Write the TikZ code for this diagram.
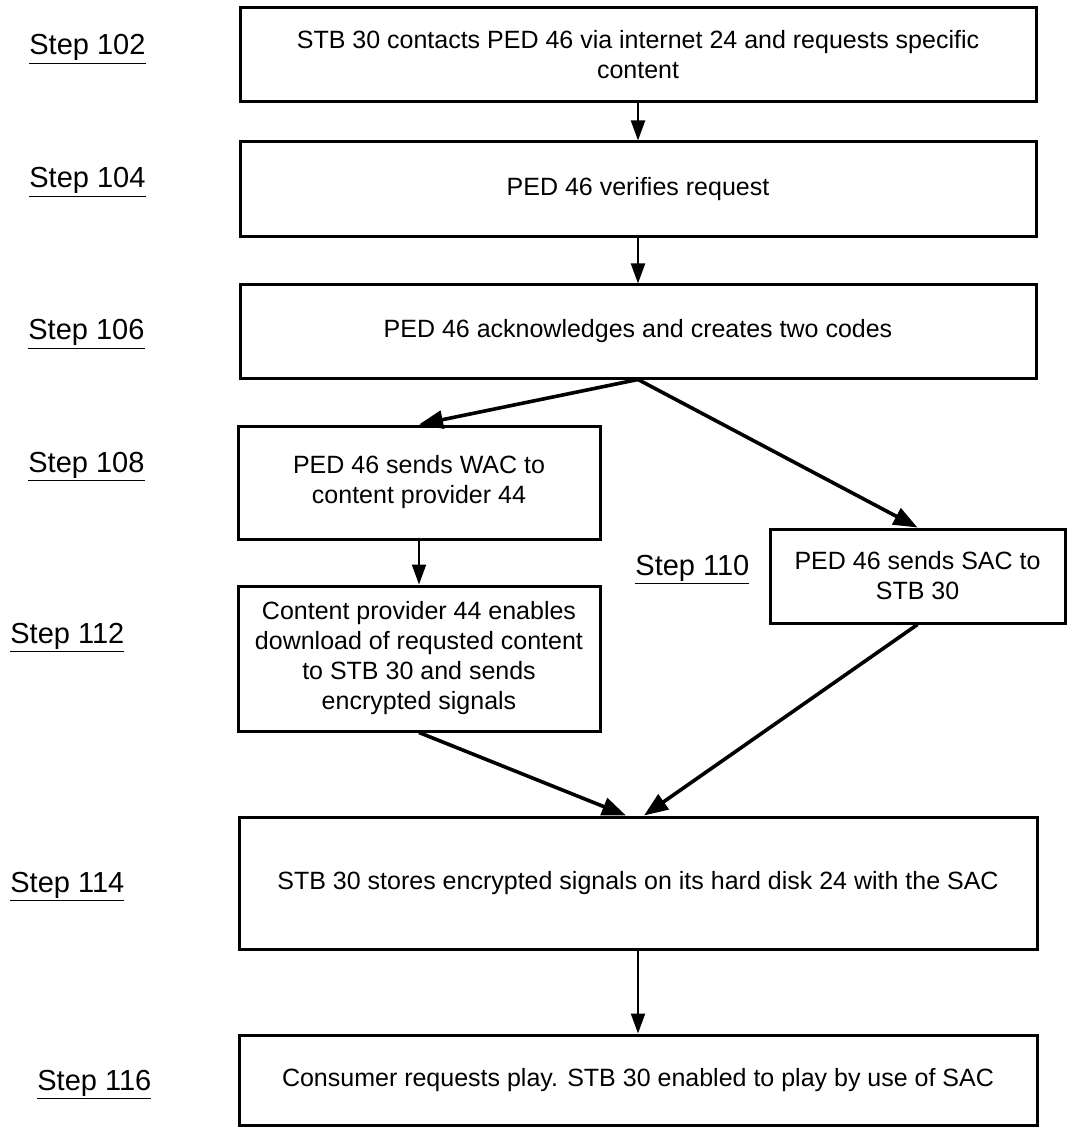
\documentclass[tikz,border=0pt]{standalone}
\usepackage{fontspec}
\setmainfont{Liberation Sans}
\usetikzlibrary{arrows.meta}
\tikzset{
  stepbox/.style={draw, line width=1.5pt, align=center, inner sep=0pt, font=\fontsize{12.5}{15}\selectfont},
  steplabel/.style={anchor=base west, inner sep=0pt, font=\fontsize{14.5}{16}\selectfont},
  flow/.style={line width=1.1pt, -{Triangle[length=10pt,width=7pt]}},
  bigflow/.style={line width=1.8pt, -{Triangle[length=12pt,width=9pt]}}
}
\begin{document}
\begin{tikzpicture}[x=0.5pt,y=-0.5pt]
\useasboundingbox (0,0) rectangle (1067,1128);
\node[stepbox, minimum width=398pt, minimum height=47pt] (b102) at (638,55) {STB 30 contacts PED 46 via internet 24 and requests specific\\content};
\node[stepbox, minimum width=398pt, minimum height=47.5pt] (b104) at (638,189.5) {PED 46 verifies request};
\node[stepbox, minimum width=398pt, minimum height=46.5pt] (b106) at (638,331.5) {PED 46 acknowledges and creates two codes};
\node[stepbox, minimum width=181pt, minimum height=56.5pt] (b108) at (419,482.5) {PED 46 sends WAC to\\content provider 44};
\node[stepbox, minimum width=147.5pt, minimum height=47pt] (b110) at (917.5,576) {PED 46 sends SAC to\\STB 30};
\node[stepbox, minimum width=181pt, minimum height=72.5pt] (b112) at (419,658.5) {Content provider 44 enables\\download of requsted content\\to STB 30 and sends\\encrypted signals};
\node[stepbox, minimum width=399pt, minimum height=66pt] (b114) at (638,883) {STB 30 stores encrypted signals on its hard disk 24 with the SAC};
\node[stepbox, minimum width=399pt, minimum height=45pt] (b116) at (638,1080) {Consumer requests play. STB 30 enabled to play by use of SAC};
\foreach \n/\x/\y in {102/29/55,104/29/188,106/28/340,108/28/472,110/635/575,112/10/643,114/10/892,116/37/1090}
{
  \node[steplabel] (s\n) at (\x,\y) {\underline{Step \n}};
}
\draw[flow] (b102) -- (b104);
\draw[flow] (b104) -- (b106);
\draw[bigflow] (b106.south) -- (b108.north);
\draw[bigflow] (b106.south) -- (b110.north);
\draw[flow] (b108) -- (b112);
\draw[bigflow] (b112.south) -- ([xshift=-6pt]b114.north);
\draw[bigflow] (b110.south) -- ([xshift=3pt]b114.north);
\draw[flow] (b114) -- (b116);
\end{tikzpicture}
\end{document}
